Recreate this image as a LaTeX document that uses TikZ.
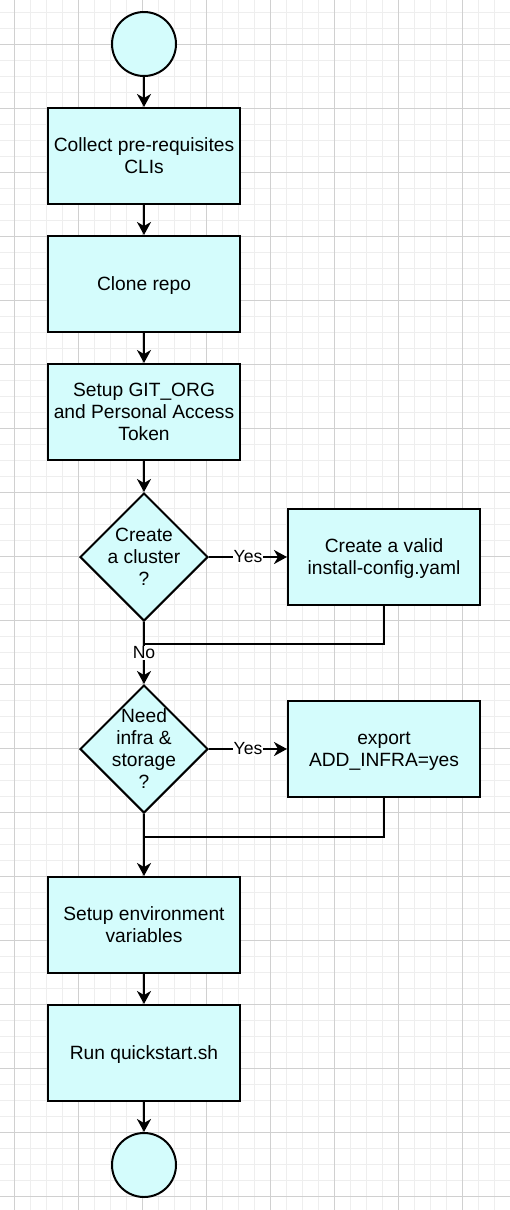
\documentclass[tikz,border=0pt]{standalone}
\usepackage{fontspec}
\setmainfont{Liberation Sans}
\usetikzlibrary{shapes.geometric,arrows.meta}
\definecolor{boxfill}{HTML}{D4FCFC}
\definecolor{gridminor}{HTML}{EEEEEE}
\definecolor{gridmajor}{HTML}{D0D0D0}
\begin{document}
\begin{tikzpicture}[x=1pt,y=-1pt,
  txt/.style={font=\fontsize{19.2}{22}\selectfont, align=center, text depth=0pt},
  proc/.style={txt, draw=black, line width=2pt, fill=boxfill, minimum width=192pt, minimum height=96pt, inner sep=0pt},
  term/.style={circle, draw=black, line width=2pt, fill=boxfill, minimum size=64pt, inner sep=0pt},
  dia/.style={diamond, draw=black, line width=2pt, fill=boxfill, minimum width=128pt, minimum height=128pt, inner sep=0pt},
  flow/.style={line width=2pt, -{Stealth[length=13pt,width=14pt,inset=4pt]}},
  joinline/.style={line width=2pt},
  lbl/.style={font=\fontsize{17.6}{20}\selectfont, fill=white, inner sep=1pt}
]
\useasboundingbox (0,0) rectangle (510,1210);
\fill[white] (0,0) rectangle (510,1210);
\begin{scope}
\clip (0,0) rectangle (510,1210);
\foreach \x in {-2,14,...,510} \draw[gridminor, line width=1pt] (\x,0) -- (\x,1210);
\foreach \y in {12,28,...,1210} \draw[gridminor, line width=1pt] (0,\y) -- (510,\y);
\foreach \x in {14,78,...,510} \draw[gridmajor, line width=1pt] (\x,0) -- (\x,1210);
\foreach \y in {44,108,...,1210} \draw[gridmajor, line width=1pt] (0,\y) -- (510,\y);
\end{scope}

\node[term] (start) at (144,44) {};
\node[proc] (b1) at (144,156) {Collect pre-requisites\\CLIs};
\node[proc] (b2) at (144,284) {Clone repo};
\node[proc] (b3) at (144,412) {Setup GIT\_ORG\\and Personal Access\\Token};
\node[dia] (d1) at (144,557) {};
\node[txt] (d1t) at (144,557) {Create\\a cluster\\?};
\node[proc] (c1) at (384,557) {Create a valid\\install-config.yaml};
\node[dia] (d2) at (144,749) {};
\node[txt] (d2t) at (144,749) {Need\\infra \&\\storage\\?};
\node[proc] (c2) at (384,749) {export\\ADD\_INFRA=yes};
\node[proc] (b4) at (144,925) {Setup environment\\variables};
\node[proc] (b5) at (144,1053) {Run quickstart.sh};
\node[term] (end) at (144,1165) {};

\coordinate (m1) at (144,644);
\coordinate (m2) at (144,837);

\draw[flow] (start) -- (b1);
\draw[flow] (b1) -- (b2);
\draw[flow] (b2) -- (b3);
\draw[flow] (b3) -- (d1);
\draw[flow] (d1.east) -- node[lbl] (yes1) {Yes} (c1.west);
\draw[flow] (d1.south) -- node[lbl] (no1) {No} (d2.north);
\draw[joinline] (c1.south) |- (m1);
\draw[flow] (d2.east) -- node[lbl] (yes2) {Yes} (c2.west);
\draw[flow] (d2.south) -- (b4.north);
\draw[joinline] (c2.south) |- (m2);
\draw[flow] (b4) -- (b5);
\draw[flow] (b5) -- (end);
\end{tikzpicture}
\end{document}
